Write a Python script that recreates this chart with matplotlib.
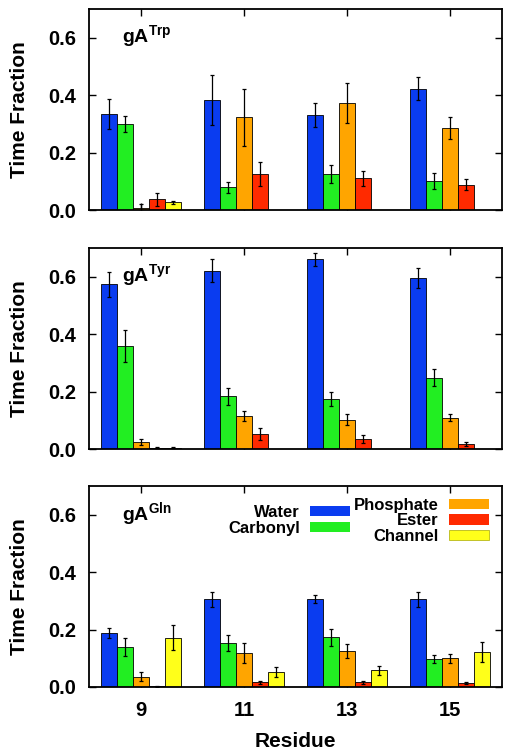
import numpy as np
import matplotlib.pyplot as plt
from matplotlib.patches import Patch

plt.rcParams['font.family'] = ['Liberation Sans', 'DejaVu Sans']
plt.rcParams['font.weight'] = 'bold'
plt.rcParams['mathtext.fontset'] = 'custom'
plt.rcParams['mathtext.rm'] = 'Liberation Sans:bold'
plt.rcParams['mathtext.bf'] = 'Liberation Sans:bold'

residues = [9, 11, 13, 15]
series = ["Water", "Carbonyl", "Phosphate", "Ester", "Channel"]
colors = ["#0a3cf0", "#22ee22", "#ffa500", "#ff2a00", "#ffff1a"]

# gA Trp
trp_val = [[0.335, 0.384, 0.330, 0.423],
           [0.300, 0.079, 0.126, 0.100],
           [0.009, 0.323, 0.374, 0.287],
           [0.038, 0.125, 0.111, 0.089],
           [0.027, 0.0, 0.0, 0.0]]
trp_err = [[0.053, 0.087, 0.042, 0.039],
           [0.027, 0.020, 0.030, 0.028],
           [0.012, 0.099, 0.069, 0.038],
           [0.023, 0.042, 0.027, 0.018],
           [0.004, 0.0, 0.0, 0.0]]

# gA Tyr
tyr_val = [[0.573, 0.620, 0.660, 0.595],
           [0.359, 0.183, 0.175, 0.249],
           [0.024, 0.114, 0.102, 0.109],
           [0.005, 0.053, 0.035, 0.017],
           [0.004, 0.0, 0.0, 0.0]]
tyr_err = [[0.044, 0.040, 0.023, 0.036],
           [0.056, 0.029, 0.024, 0.031],
           [0.010, 0.018, 0.019, 0.013],
           [0.002, 0.021, 0.013, 0.007],
           [0.002, 0.0, 0.0, 0.0]]

# gA Gln
gln_val = [[0.188, 0.306, 0.306, 0.305],
           [0.140, 0.153, 0.173, 0.097],
           [0.036, 0.119, 0.125, 0.100],
           [0.003, 0.017, 0.016, 0.014],
           [0.171, 0.052, 0.058, 0.121]]
gln_err = [[0.019, 0.026, 0.014, 0.027],
           [0.032, 0.027, 0.029, 0.013],
           [0.016, 0.035, 0.023, 0.016],
           [0.002, 0.005, 0.004, 0.004],
           [0.043, 0.016, 0.016, 0.034]]

panels = [("Trp", trp_val, trp_err), ("Tyr", tyr_val, tyr_err), ("Gln", gln_val, gln_err)]

fig = plt.figure(figsize=(5.12, 7.56), dpi=100)
bottoms = [0.722, 0.406, 0.0913]
w = 0.31
x = np.array(residues, dtype=float)

for k, (name, vals, errs) in enumerate(panels):
    ax = fig.add_axes([0.174, bottoms[k], 0.806, 0.266])
    for i in range(5):
        v = np.array(vals[i])
        e = np.array(errs[i])
        m = v > 0
        ax.bar(x[m] + (i - 2) * w, v[m], width=w, color=colors[i],
               edgecolor='black', linewidth=0.6, zorder=2)
        ax.errorbar(x[m] + (i - 2) * w, v[m], yerr=e[m], fmt='none',
                    ecolor='black', elinewidth=0.9, capsize=1.5, capthick=0.9, zorder=3)
    ax.set_xlim(8, 16)
    ax.set_ylim(0, 0.7)
    ax.set_yticks([0.0, 0.2, 0.4, 0.6])
    ax.set_yticklabels(["0.0", "0.2", "0.4", "0.6"])
    ax.set_xticks(residues)
    ax.tick_params(direction='in', length=5, width=1.0, top=True, right=True,
                   labelsize=14.5)
    ax.tick_params(axis='y', pad=9)
    ax.tick_params(axis='x', pad=10)
    for sp in ax.spines.values():
        sp.set_linewidth(1.3)
    ax.set_ylabel("Time Fraction", fontsize=15, fontweight='bold', labelpad=14)
    ax.text(0.08, 0.93, r"gA$^{\mathbf{%s}}$" % name, transform=ax.transAxes,
            fontsize=14, fontweight='bold', va='top', ha='left')
    if k < 2:
        ax.set_xticklabels([])
    else:
        ax.set_xlabel("Residue", fontsize=15, fontweight='bold', labelpad=9)
        h1 = [Patch(facecolor=colors[i], edgecolor='none') for i in range(2)]
        leg1 = ax.legend(h1, series[:2], loc='upper right', bbox_to_anchor=(0.632, 0.905),
                         frameon=False, markerfirst=False, fontsize=12,
                         handlelength=2.4, handleheight=0.55, labelspacing=0.05,
                         handletextpad=0.6, borderaxespad=0, borderpad=0)
        ax.add_artist(leg1)
        h2 = [Patch(facecolor=colors[i], edgecolor='#aaaa00' if i == 4 else 'none',
                    linewidth=0.5) for i in range(2, 5)]
        ax.legend(h2, series[2:], loc='upper right', bbox_to_anchor=(0.969, 0.942),
                  frameon=False, markerfirst=False, fontsize=12,
                  handlelength=2.4, handleheight=0.55, labelspacing=0.05,
                  handletextpad=0.6, borderaxespad=0, borderpad=0)

fig.savefig("out.png", dpi=100)
